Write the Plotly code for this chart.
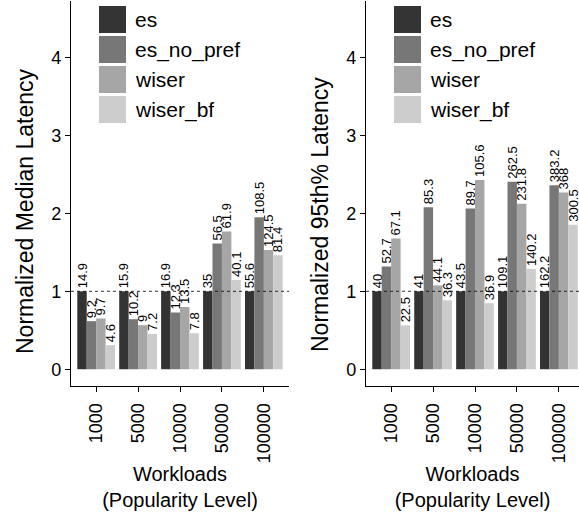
import plotly.graph_objects as go

categories = ["1000", "5000", "10000", "50000", "100000"]
series = ["es", "es_no_pref", "wiser", "wiser_bf"]
colors = ["#333333", "#777777", "#A6A6A6", "#CCCCCC"]

# Normalized heights
median_heights = {
    "es": [1.0, 1.0, 1.0, 1.0, 1.0],
    "es_no_pref": [0.617, 0.642, 0.728, 1.614, 1.951],
    "wiser": [0.651, 0.566, 0.799, 1.769, 1.53],
    "wiser_bf": [0.309, 0.453, 0.462, 1.146, 1.464],
}
median_labels = {
    "es": ["14.9", "15.9", "16.9", "35", "55.6"],
    "es_no_pref": ["9.2", "10.2", "12.3", "56.5", "108.5"],
    "wiser": ["9.7", "9", "13.5", "61.9", "124.5"],
    "wiser_bf": ["4.6", "7.2", "7.8", "40.1", "81.4"],
}
p95_heights = {
    "es": [1.0, 1.0, 1.0, 1.0, 1.0],
    "es_no_pref": [1.318, 2.080, 2.062, 2.406, 2.362],
    "wiser": [1.678, 1.076, 2.428, 2.125, 2.269],
    "wiser_bf": [0.563, 0.885, 0.848, 1.285, 1.853],
}
p95_labels = {
    "es": ["40", "41", "43.5", "109.1", "162.2"],
    "es_no_pref": ["52.7", "85.3", "89.7", "262.5", "383.2"],
    "wiser": ["67.1", "44.1", "105.6", "231.8", "368"],
    "wiser_bf": ["22.5", "36.3", "36.9", "140.2", "300.5"],
}

y_tick_vals = [0, 1, 2, 3, 4]
y_titles = ["Normalized Median Latency", "Normalized 95th% Latency"]
x_title = "Workloads<br>(Popularity Level)"

W, H = 579, 525
FONT = "Liberation Sans, Arial, sans-serif"

fig = go.Figure()

panels = [(median_heights, median_labels, "x", "y"), (p95_heights, p95_labels, "x2", "y2")]
for heights, labels, xa, ya in panels:
    for s, c in zip(series, colors):
        fig.add_trace(go.Bar(
            x=categories, y=heights[s], text=labels[s], name=s,
            marker=dict(color=c, line=dict(width=0)),
            textposition="outside", textangle=-90, constraintext="none",
            textfont=dict(size=13, color="black", family=FONT),
            cliponaxis=False, showlegend=False,
            xaxis=xa, yaxis=ya,
        ))

x_domains = [[71 / W, 289 / W], [366 / W, 1.0]]
x_ranges = [[-0.6, 4.6], [-0.6, 4.48]]
y_dom = [(H - 386) / H, (H - 1.4) / H]
y_range = [-0.215, 4.72]

axis_common = dict(showline=True, linecolor="black", linewidth=1.2, ticks="outside",
                   ticklen=5, tickcolor="black", tickwidth=1.2, showgrid=False, zeroline=False,
                   automargin=False,
                   tickfont=dict(size=18, color="black", family=FONT))

layout = dict(
    width=W, height=H, margin=dict(l=0, r=0, t=0, b=0, autoexpand=False),
    paper_bgcolor="white", plot_bgcolor="white",
    barmode="group", bargap=0.1, bargroupgap=0,
    font=dict(family=FONT, color="black"),
    showlegend=False,
    uniformtext=dict(minsize=13, mode="show"),
)
for i in range(2):
    xk = "xaxis" if i == 0 else "xaxis2"
    yk = "yaxis" if i == 0 else "yaxis2"
    layout[xk] = dict(axis_common, domain=x_domains[i], range=x_ranges[i], tickangle=-90,
                      anchor="y" if i == 0 else "y2", ticklabelstandoff=4,
                      title=dict(text=x_title, font=dict(size=20, color="black", family=FONT), standoff=1))
    layout[yk] = dict(axis_common, domain=y_dom, range=y_range, tickvals=y_tick_vals,
                      anchor="x" if i == 0 else "x2")
fig.update_layout(**layout)

# y-axis titles
y_title_x_px = [25, 320]
y_title_y_px = [211, 215]
for i in range(2):
    fig.add_annotation(xref="paper", yref="paper", x=y_title_x_px[i] / W, y=1 - y_title_y_px[i] / H,
                       text=y_titles[i], textangle=-90, showarrow=False,
                       xanchor="center", yanchor="middle",
                       font=dict(size=23, color="black", family=FONT))

# dotted reference line at 1
for i in range(2):
    xr = "x domain" if i == 0 else "x2 domain"
    yr = "y" if i == 0 else "y2"
    fig.add_shape(type="line", xref=xr, yref=yr, x0=0, x1=1, y0=1, y1=1,
                  line=dict(color="black", width=0.8, dash="dot"), layer="above")

# manual legends (large keys) in each panel
key_left_px = [99, 394]
for i in range(2):
    for j, (s, c) in enumerate(zip(series, colors)):
        top = 6 + 30 * j
        x0 = key_left_px[i]
        fig.add_shape(type="rect", xref="paper", yref="paper",
                      x0=x0 / W, x1=(x0 + 27) / W, y0=1 - (top + 27) / H, y1=1 - top / H,
                      fillcolor=c, line=dict(width=0), layer="above")
        fig.add_annotation(xref="paper", yref="paper", x=(x0 + 34) / W, y=1 - (top + 13.5) / H,
                           text=s, showarrow=False, xanchor="left", yanchor="middle",
                           font=dict(size=21, color="black", family=FONT))

fig.write_html("out.html", config={"displayModeBar": False},
               post_script="document.body.style.margin='0';document.body.style.padding='0';")
